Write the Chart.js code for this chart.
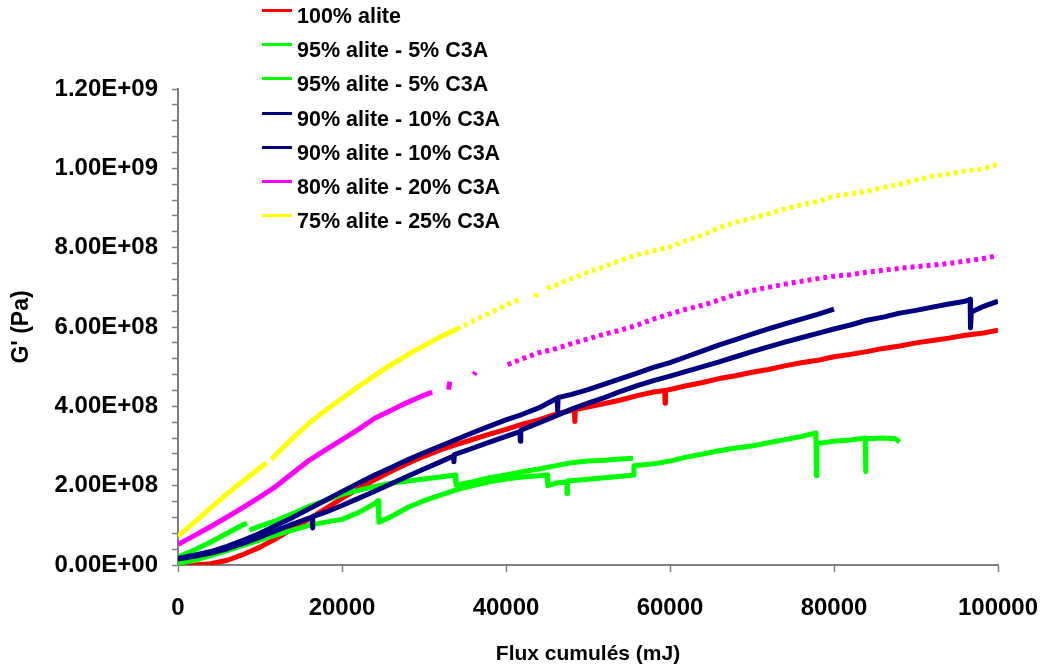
<!DOCTYPE html>
<html>
<head>
<meta charset="utf-8">
<script src="https://cdn.jsdelivr.net/npm/chart.js@4.4.0/dist/chart.umd.min.js"></script>
<style>
  body { margin: 0; background: #fff; }
  #wrap { position: relative; width: 1044px; height: 669px; }
  #legend { position: absolute; left: 262px; top: -1px; font: bold 21.5px "Liberation Sans", Arial, sans-serif; color: #000; }
  #legend .row { position: relative; height: 34.2px; line-height: 34.2px; padding-left: 35px; white-space: nowrap; }
  #legend .swatch { position: absolute; left: 0; top: 10px; width: 30px; height: 3px; }
</style>
</head>
<body>
<div id="wrap">
  <canvas id="gChart" width="1044" height="669"></canvas>
  <div id="legend"></div>
</div>
<script>
// values in units of 1E+08 Pa, x in mJ
var seriesNames = ['100% alite', '95% alite - 5% C3A', '95% alite - 5% C3A', '90% alite - 10% C3A',
                   '90% alite - 10% C3A', '80% alite - 20% C3A', '75% alite - 25% C3A'];
var seriesColors = ['#ff0000', '#00ff00', '#00ff00', '#000080', '#000080', '#ff00ff', '#ffff00'];

var redX = [0,2000,4000,6000,8000,10000,12000,14000,16000,18000,20000,22000,24000,26000,28000,30000,32000,34000,36000,38000,40000,42000,44000,46000,48000,48350,48400,48450,50000,52000,54000,56000,58000,59350,59400,59450,62000,64000,66000,68000,70000,72000,74000,76000,78000,80000,82000,84000,86000,88000,90000,92000,94000,96000,98000,100000];
var redY = [0,0,0.03,0.12,0.27,0.45,0.67,0.92,1.16,1.42,1.68,1.92,2.15,2.36,2.56,2.74,2.9,3.04,3.17,3.3,3.42,3.55,3.66,3.8,3.9,3.92,3.62,3.92,3.98,4.07,4.16,4.27,4.36,4.4,4.08,4.4,4.52,4.6,4.7,4.77,4.86,4.93,5.02,5.1,5.16,5.25,5.31,5.38,5.46,5.52,5.6,5.66,5.72,5.79,5.84,5.92];

var green1X = [0,2000,4000,6000,8000,8400,8550,8700,10000,12000,14000,16000,18000,20000,22000,24000,26000,28000,30000,32000,33800,33900,36000,38000,40000,42000,44000,46000,48000,50000,52000,54000,55500];
var green1Y = [0.2,0.38,0.58,0.8,1.02,1.05,null,0.88,0.98,1.12,1.3,1.48,1.63,1.78,1.88,1.98,2.06,2.12,2.17,2.22,2.27,2.02,2.1,2.2,2.27,2.35,2.42,2.5,2.58,2.62,2.64,2.67,2.69];

var green2X = [0,2000,4000,6000,8000,10000,12000,14000,16000,18000,20000,22000,24000,24400,24500,26000,28000,30000,32000,34000,36000,38000,40000,42000,44000,45000,45100,46000,47400,47450,47500,50000,52000,54000,55500,55600,58000,60000,62000,64000,66000,68000,70000,72000,74000,76000,77800,77850,77900,80000,82000,83800,83850,83900,86000,87500,88000];
var green2Y = [0.04,0.12,0.24,0.36,0.5,0.63,0.76,0.88,1.0,1.08,1.15,1.32,1.55,1.62,1.08,1.22,1.45,1.62,1.76,1.9,2.0,2.1,2.17,2.22,2.25,2.27,2.0,2.06,2.1,1.8,2.12,2.16,2.2,2.24,2.26,2.5,2.55,2.62,2.72,2.8,2.88,2.95,3.0,3.08,3.16,3.24,3.33,2.25,3.06,3.12,3.15,3.2,2.35,3.18,3.2,3.18,3.1];

var navy1X = [0,2000,4000,6000,8000,10000,12000,14000,16000,18000,20000,22000,24000,26000,28000,30000,32000,34000,36000,38000,40000,42000,44000,46000,46250,46300,46350,48000,50000,52000,54000,56000,58000,60000,62000,64000,66000,68000,70000,72000,74000,76000,78000,80000];
var navy1Y = [0.17,0.25,0.34,0.47,0.63,0.8,1.0,1.2,1.42,1.63,1.85,2.06,2.27,2.46,2.65,2.83,3.0,3.17,3.34,3.5,3.66,3.8,3.96,4.18,4.2,3.88,4.22,4.3,4.42,4.56,4.7,4.84,4.98,5.1,5.25,5.4,5.55,5.68,5.82,5.95,6.08,6.2,6.32,6.45];

var navy2X = [0,2000,4000,6000,8000,10000,12000,14000,16000,16350,16400,16450,18000,20000,22000,24000,26000,28000,30000,32000,33600,33650,33700,36000,38000,40000,41700,41750,41800,44000,46000,48000,50000,52000,54000,56000,58000,60000,62000,64000,66000,68000,70000,72000,74000,76000,78000,80000,82000,84000,86000,88000,90000,92000,94000,96000,96600,96650,96750,98000,100000];
var navy2Y = [0.15,0.22,0.3,0.41,0.55,0.7,0.87,1.03,1.18,1.2,0.93,1.22,1.33,1.5,1.68,1.86,2.05,2.24,2.42,2.6,2.75,2.6,2.78,2.95,3.1,3.24,3.36,3.12,3.4,3.58,3.75,3.93,4.08,4.22,4.38,4.52,4.65,4.76,4.88,5.0,5.12,5.25,5.38,5.5,5.62,5.73,5.84,5.95,6.05,6.17,6.25,6.35,6.42,6.5,6.58,6.65,6.7,5.98,6.38,6.5,6.65];

var magentaX = [0,2000,4000,6000,8000,10000,12000,14000,16000,18000,20000,22000,24000,26000,28000,30000,31000,32000,33000,33150,33300,36100,36300,37000,40200,42000,44000,46000,48000,50000,52000,54000,56000,58000,60000,62000,64000,66000,68000,70000,72000,74000,76000,78000,80000,82000,84000,86000,88000,90000,92000,94000,96000,98000,100000];
var magentaY = [0.52,0.74,0.97,1.21,1.46,1.72,1.99,2.32,2.64,2.9,3.16,3.42,3.7,3.9,4.1,4.28,4.36,null,4.42,4.62,null,4.8,4.86,null,5.05,5.2,5.35,5.45,5.58,5.7,5.82,5.92,6.05,6.2,6.33,6.45,6.55,6.68,6.82,6.92,7.0,7.08,7.15,7.22,7.28,7.32,7.38,7.43,7.48,7.52,7.56,7.6,7.66,7.72,7.8];

var yellowX = [0,2000,4000,6000,8000,10000,10800,11100,11400,12000,14000,16000,18000,20000,22000,24000,26000,28000,30000,32000,34000,36000,38000,40000,41500,42500,43600,43800,44300,45000,46000,48000,50000,52000,54000,56000,58000,60000,62000,64000,66000,68000,70000,72000,74000,76000,78000,80000,82000,84000,86000,88000,90000,92000,94000,96000,98000,100000];
var yellowY = [0.72,1.08,1.44,1.8,2.13,2.45,2.58,null,2.66,2.8,3.2,3.58,3.9,4.2,4.5,4.78,5.05,5.3,5.53,5.75,5.95,6.15,6.35,6.55,6.68,null,6.75,6.92,null,6.98,7.05,7.22,7.38,7.52,7.68,7.82,7.92,8.02,8.18,8.32,8.5,8.64,8.74,8.85,8.98,9.08,9.16,9.3,9.36,9.42,9.52,9.6,9.7,9.8,9.86,9.93,9.98,10.1];

var xTicks = [0, 20000, 40000, 60000, 80000, 100000];

function pts(xs, ys) {
    return xs.map(function(x, i) {
        return { x: x, y: ys[i] === null ? null : ys[i] * 1e8 };
    });
}

// sparse (broken) part of the noisy curves starts at these x
var dashFrom = [null, null, null, null, null, 40000, 33000];
var allX = [redX, green1X, green2X, navy1X, navy2X, magentaX, yellowX];
var allY = [redY, green1Y, green2Y, navy1Y, navy2Y, magentaY, yellowY];

var datasets = seriesNames.map(function(name, i) {
    var from = dashFrom[i];
    return {
        label: name,
        data: pts(allX[i], allY[i]),
        borderColor: seriesColors[i],
        borderWidth: 5,
        pointRadius: 0,
        fill: false,
        spanGaps: false,
        tension: 0,
        borderJoinStyle: 'round',
        order: seriesNames.length - 1 - i,
        segment: {
            borderDash: function(ctx) {
                return (from !== null && ctx.p0.parsed.x >= from) ? [4, 4] : undefined;
            }
        }
    };
});

function sciLabel(v) {
    if (v === 0) return '0.00E+00';
    var e = Math.floor(Math.log10(v) + 1e-9);
    var m = v / Math.pow(10, e);
    return m.toFixed(2) + 'E+' + (e < 10 ? '0' + e : e);
}

var tickFont = { family: '"Liberation Sans", Arial, sans-serif', size: 24, weight: 'bold' };

document.addEventListener('DOMContentLoaded', function() {
    var ctx = document.getElementById('gChart').getContext('2d');
    new Chart(ctx, {
        type: 'line',
        data: { datasets: datasets },
        options: {
            responsive: false,
            animation: false,
            layout: { padding: { top: 89, right: 46, left: 0, bottom: 0 } },
            plugins: { legend: { display: false }, tooltip: { enabled: false } },
            scales: {
                x: {
                    type: 'linear',
                    min: 0,
                    max: 100000,
                    afterFit: function(s) { s.height = 104; s.paddingRight = 0; s.paddingLeft = 0; },
                    afterBuildTicks: function(s) { s.ticks = xTicks.map(function(v) { return { value: v }; }); },
                    ticks: { color: '#000', font: tickFont, padding: 22, maxRotation: 0, autoSkip: false,
                             callback: function(v) { return String(v); } },
                    grid: { drawOnChartArea: false, drawTicks: true, tickLength: 7, color: '#808080', tickWidth: 1.5 },
                    border: { color: '#808080', width: 2 },
                    title: { display: true, text: 'Flux cumulés (mJ)', color: '#000',
                             font: { family: '"Liberation Sans", Arial, sans-serif', size: 21, weight: 'bold' },
                             padding: { top: 0, bottom: 2 } }
                },
                y: {
                    min: 0,
                    max: 1.2e9,
                    afterFit: function(s) { s.width = 178; s.paddingTop = 0; s.paddingBottom = 0; },
                    ticks: { stepSize: 4e7, color: '#000', font: tickFont, padding: 14,
                             autoSkip: false, maxTicksLimit: 100,
                             callback: function(v) {
                                 return Math.round(v / 4e7) % 5 === 0 ? sciLabel(v) : '';
                             } },
                    grid: { drawOnChartArea: false, drawTicks: true, tickLength: 6, color: '#808080', tickWidth: 1.5 },
                    border: { color: '#808080', width: 2 },
                    title: { display: true, text: "G' (Pa)", color: '#000',
                             font: { family: '"Liberation Sans", Arial, sans-serif', size: 23, weight: 'bold' },
                             padding: { top: 8, bottom: 0 } }
                }
            }
        }
    });

    var legend = document.getElementById('legend');
    seriesNames.forEach(function(name, i) {
        var row = document.createElement('div');
        row.className = 'row';
        var sw = document.createElement('span');
        sw.className = 'swatch';
        sw.style.background = seriesColors[i];
        row.appendChild(sw);
        row.appendChild(document.createTextNode(name));
        legend.appendChild(row);
    });
});
</script>
</body>
</html>
